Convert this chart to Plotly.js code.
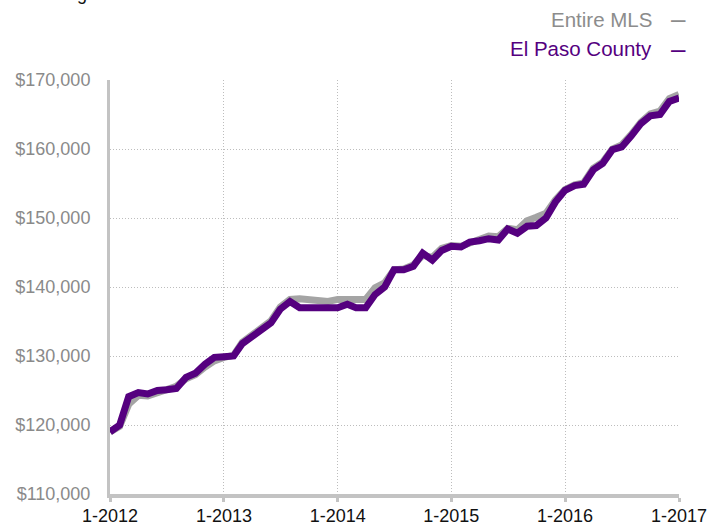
<!DOCTYPE html>
<html>
<head>
<meta charset="utf-8">
<script src="https://cdn.plot.ly/plotly-3.0.1.min.js"></script>
<style>
html,body{margin:0;padding:0;background:#fff;}
#chart{width:721px;height:525px;}
</style>
</head>
<body>
<div id="chart"></div>
<script>
const months = [
 "2012-01-01","2012-02-01","2012-03-01","2012-04-01","2012-05-01","2012-06-01","2012-07-01","2012-08-01","2012-09-01","2012-10-01","2012-11-01","2012-12-01",
 "2013-01-01","2013-02-01","2013-03-01","2013-04-01","2013-05-01","2013-06-01","2013-07-01","2013-08-01","2013-09-01","2013-10-01","2013-11-01","2013-12-01",
 "2014-01-01","2014-02-01","2014-03-01","2014-04-01","2014-05-01","2014-06-01","2014-07-01","2014-08-01","2014-09-01","2014-10-01","2014-11-01","2014-12-01",
 "2015-01-01","2015-02-01","2015-03-01","2015-04-01","2015-05-01","2015-06-01","2015-07-01","2015-08-01","2015-09-01","2015-10-01","2015-11-01","2015-12-01",
 "2016-01-01","2016-02-01","2016-03-01","2016-04-01","2016-05-01","2016-06-01","2016-07-01","2016-08-01","2016-09-01","2016-10-01","2016-11-01","2016-12-01",
 "2017-01-01"
];

const entireMLS = [
 119000,119800,123000,124300,124200,124700,125000,125600,126700,127300,128400,129300,
 129800,130100,132000,133100,134300,135100,137100,138200,138300,138200,137900,137900,
 138200,138300,138200,138200,139900,140600,142500,142600,143200,144600,144300,145600,
 146000,145900,146300,147000,147400,147300,148500,148300,149600,150100,150700,152600,
 154100,154800,155100,157200,158100,160000,160600,162100,163900,165100,165500,167300,
 167900
];

const elPasoCounty = [
 119000,120000,124100,124700,124500,125000,125100,125300,126900,127500,128800,129800,
 129900,130000,131800,132800,133800,134800,136800,137900,137000,137000,137000,137000,
 137000,137500,137000,137000,138900,140000,142500,142500,143000,144900,143900,145300,
 145900,145800,146500,146700,147000,146800,148400,147800,148800,148900,150000,152300,
 154000,154700,154900,157000,157900,159900,160300,161900,163700,164800,165000,166900,
 167400
];

const xTickVals = ["2012-01-01","2013-01-01","2014-01-01","2015-01-01","2016-01-01","2017-01-01"];
const xTickText = ["1-2012","1-2013","1-2014","1-2015","1-2016","1-2017"];
const yTickVals = [110000,120000,130000,140000,150000,160000,170000];
const yTickText = ["$110,000","$120,000","$130,000","$140,000","$150,000","$160,000","$170,000"];

const seriesNames = ["Entire MLS","El Paso County"];
const titleText = "Rolling 12-Month Calculation";

const grey = "#a4a4a4";
const purple = "#55007f";

const traces = [
 {x: months, y: entireMLS, type: "scatter", mode: "lines", name: seriesNames[0],
  line: {color: grey, width: 7}, showlegend: false, hoverinfo: "x+y"},
 {x: months, y: elPasoCounty, type: "scatter", mode: "lines", name: seriesNames[1],
  line: {color: purple, width: 7}, showlegend: false, hoverinfo: "x+y"}
];

const font = "'Liberation Sans', Arial, Helvetica, sans-serif";

const layout = {
 width: 721, height: 525,
 margin: {l: 110, r: 42, t: 80, b: 31, pad: 0},
 paper_bgcolor: "#ffffff", plot_bgcolor: "#ffffff",
 font: {family: font, size: 17, color: "#8a8a8a"},
 xaxis: {
  type: "date",
  range: ["2012-01-01","2017-01-01"],
  tickvals: xTickVals, ticktext: xTickText,
  tickfont: {family: font, size: 18, color: "#111111"},
  showgrid: true, gridcolor: "#bdbdbd", griddash: "1px,2px", gridwidth: 1,
  showline: true, linecolor: "#c3c3c3", linewidth: 4,
  ticks: "outside", ticklen: 4, tickwidth: 3, tickcolor: "#c3c3c3",
  ticklabelstandoff: -2,
  zeroline: false, fixedrange: true
 },
 yaxis: {
  range: [110000,170000],
  tickvals: yTickVals, ticktext: yTickText,
  tickfont: {family: font, size: 18, color: "#8a8a8a"},
  showgrid: true, gridcolor: "#bdbdbd", griddash: "1px,2px", gridwidth: 1,
  showline: true, linecolor: "#c3c3c3", linewidth: 3,
  ticks: "", ticklabelstandoff: 13,
  zeroline: false, fixedrange: true
 },
 annotations: [
  {text: titleText, xref: "paper", yref: "paper", x: -0.1406, y: 1.1795,
   xanchor: "left", yanchor: "bottom", showarrow: false,
   font: {family: font, size: 18, color: "#111111"}},
  {text: seriesNames[0], xref: "paper", yref: "paper", x: 0.956, y: 1.1473,
   xanchor: "right", yanchor: "middle", showarrow: false,
   font: {family: font, size: 20.5, color: "#8c8c8c"}},
  {text: "–", xref: "paper", yref: "paper", x: 0.9825, y: 1.1473,
   xanchor: "left", yanchor: "middle", showarrow: false,
   font: {family: font, size: 26, color: "#8c8c8c"}},
  {text: seriesNames[1], xref: "paper", yref: "paper", x: 0.956, y: 1.0749,
   xanchor: "right", yanchor: "middle", showarrow: false,
   font: {family: font, size: 20.5, color: purple}},
  {text: "–", xref: "paper", yref: "paper", x: 0.9825, y: 1.0749,
   xanchor: "left", yanchor: "middle", showarrow: false,
   font: {family: font, size: 26, color: purple}}
 ]
};

Plotly.newPlot("chart", traces, layout, {displayModeBar: false, staticPlot: true});
</script>
</body>
</html>
